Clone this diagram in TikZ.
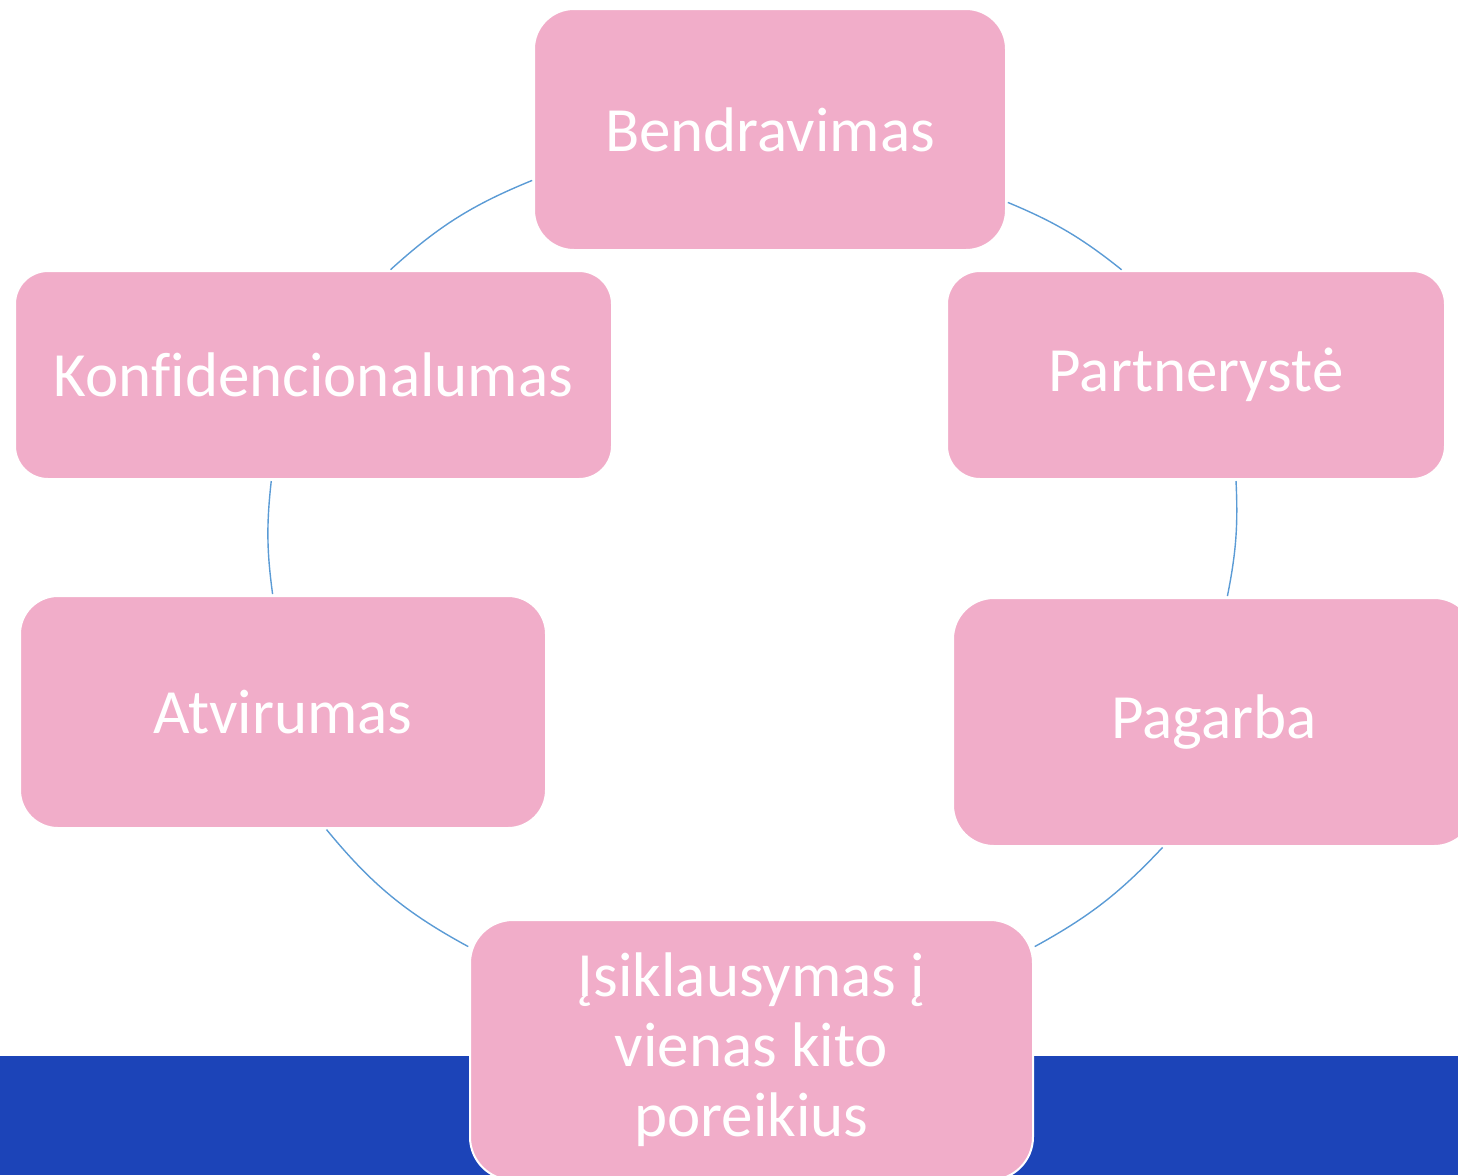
\documentclass[tikz,border=0pt]{standalone}
\usepackage{fontspec}
\setsansfont{Carlito}[Ligatures=NoCommon]
\definecolor{boxpink}{HTML}{F1ADC9}
\definecolor{barblue}{HTML}{1C44B8}
\definecolor{arcblue}{HTML}{5B9BD5}

\begin{document}
\begin{tikzpicture}[
   x=0.5pt,y=-0.5pt,
   font=\sffamily\fontsize{31.5}{35}\selectfont,
   item/.style={fill=boxpink,draw=white,line width=1pt,text=white,align=center,inner sep=0pt,outer sep=0pt},
   link/.style={arcblue,line width=0.7pt,shorten >=1pt,shorten <=1pt,bend left=#1}]
\useasboundingbox (0,0) rectangle (1458,1175);
\clip (0,0) rectangle (1458,1175);
\fill[barblue] (0,1056) rectangle (1458,1175);
\node[item,minimum width=236pt,minimum height=120.5pt,rounded corners=20pt] (Bend) at (770,129.5) {Bendravimas};
\node[item,minimum width=249pt,minimum height=104pt,rounded corners=16.5pt] (Part) at (1196,375) {Partnerystė};
\node[item,minimum width=261pt,minimum height=124pt,rounded corners=20.5pt] (Pag) at (1214,722) {Pagarba};
\node[item,minimum width=281.5pt,minimum height=130pt,rounded corners=21.5pt] (Isikl) at (751.5,1050) {Įsiklausymas į\\vienas kito\\poreikius};
\node[item,minimum width=263pt,minimum height=116pt,rounded corners=19pt] (Atv) at (283,712) {Atvirumas};
\node[item,minimum width=298.5pt,minimum height=104pt,rounded corners=16.5pt] (Konf) at (313.5,375) {Konfidencionalumas};
\draw[link=8]  (Bend.343) to (Part.125);
\draw[link=7]  (Part.291) to (Pag.84);
\draw[link=9]  (Pag.248) to (Isikl.20);
\draw[link=11] (Isikl.160) to (Atv.290);
\draw[link=7]  (Atv.95) to (Konf.248);
\draw[link=10] (Konf.54) to (Bend.192);
\end{tikzpicture}
\end{document}
